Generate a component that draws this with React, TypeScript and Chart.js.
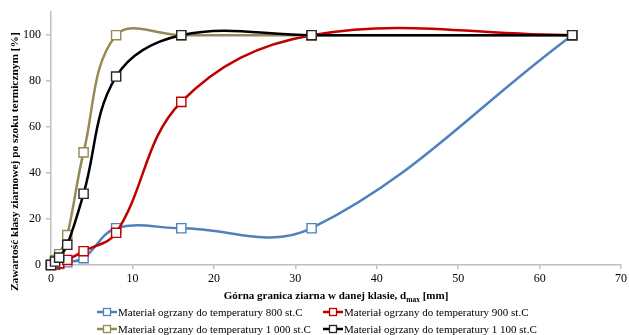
import React, { useEffect, useRef } from 'react';
import { Chart, registerables } from 'chart.js';

Chart.register(...registerables);

// ---- data ----
const grainSizes = [0, 0.5, 1, 2, 4, 8, 16, 32, 64];
const series800 = [0, 0.3, 0.5, 1.2, 3, 16, 16, 16, 100];
const series900 = [0, 0.2, 0.8, 2.2, 6, 14, 71, 100, 100];
const series1000 = [0, 2, 4.7, 13, 49, 100, 100, 100, 100];
const series1100 = [0, 1.5, 3.2, 8.8, 31, 82, 100, 100, 100];

const seriesLabels = [
  'Materiał ogrzany do temperatury 800 st.C',
  'Materiał ogrzany do temperatury 900 st.C',
  'Materiał ogrzany do temperatury 1 000 st.C',
  'Materiał ogrzany do temperatury 1 100 st.C',
];
const seriesColors = ['#4F81BD', '#C00000', '#948A54', '#000000'];
const markerBorders = ['#4F81BD', '#C00000', '#948A54', '#262626'];

const xTitleMain = 'Górna granica ziarna w danej klasie, d';
const xTitleSub = 'max';
const xTitleTail = ' [mm]';
const yTitle = 'Zawartość klasy ziarnowej po szoku termicznym [%]';

const FONT = '"Liberation Serif", "Times New Roman", serif';
const AXIS_COLOR = '#BFBFBF';
const TEXT_COLOR = '#000000';

const allSeries = [series800, series900, series1000, series1100];

const overlayPlugin = {
  id: 'overlay',
  afterDraw(chart: any) {
    const ctx: CanvasRenderingContext2D = chart.ctx;
    const area = chart.chartArea;
    ctx.save();
    ctx.fillStyle = TEXT_COLOR;
    ctx.textAlign = 'left';
    ctx.textBaseline = 'alphabetic';

    // x-axis title with subscript
    const big = `bold 11px ${FONT}`;
    const small = `bold 7.5px ${FONT}`;
    ctx.font = big;
    const w1 = ctx.measureText(xTitleMain).width;
    const w3 = ctx.measureText(xTitleTail).width;
    ctx.font = small;
    const w2 = ctx.measureText(xTitleSub).width;
    let tx = (area.left + area.right) / 2 - (w1 + w2 + w3) / 2;
    const ty = area.bottom + 34;
    ctx.font = big;
    ctx.fillText(xTitleMain, tx, ty);
    tx += w1;
    ctx.font = small;
    ctx.fillText(xTitleSub, tx, ty + 3);
    tx += w2;
    ctx.font = big;
    ctx.fillText(xTitleTail, tx, ty);

    // y-axis title
    ctx.save();
    ctx.translate(15, (area.top + chart.height) / 2 - 12);
    ctx.rotate(-Math.PI / 2);
    ctx.textAlign = 'center';
    ctx.textBaseline = 'middle';
    ctx.font = `bold 11.4px ${FONT}`;
    ctx.fillText(yTitle, 0, 0);
    ctx.restore();

    // legend (2 x 2 grid)
    const colX = [97, 323];
    const rowY = [area.bottom + 47, area.bottom + 64];
    ctx.font = `11px ${FONT}`;
    ctx.textBaseline = 'middle';
    seriesLabels.forEach((label, i) => {
      const col = i % 2;
      const row = Math.floor(i / 2);
      const x = colX[col];
      const y = rowY[row];
      ctx.strokeStyle = seriesColors[i];
      ctx.lineWidth = 2.5;
      ctx.beginPath();
      ctx.moveTo(x, y);
      ctx.lineTo(x + 20, y);
      ctx.stroke();
      ctx.fillStyle = '#ffffff';
      ctx.strokeStyle = markerBorders[i];
      ctx.lineWidth = 1.3;
      ctx.fillRect(x + 6.5, y - 3.5, 7, 7);
      ctx.strokeRect(x + 6.5, y - 3.5, 7, 7);
      ctx.fillStyle = TEXT_COLOR;
      ctx.fillText(label, x + 21, y + 1);
    });
    ctx.restore();
  },
};

export default function App() {
  const canvasRef = useRef<HTMLCanvasElement | null>(null);

  useEffect(() => {
    const canvas = canvasRef.current;
    if (!canvas) return;
    const order = [3, 2, 1, 0];
    const chart = new Chart(canvas, {
      type: 'line',
      data: {
        datasets: allSeries.map((s, i) => ({
          label: seriesLabels[i],
          data: s.map((v, j) => ({ x: grainSizes[j], y: v })),
          borderColor: seriesColors[i],
          backgroundColor: seriesColors[i],
          borderWidth: 2.5,
          tension: 0.38,
          fill: false,
          pointStyle: 'rect',
          pointRadius: 6.5,
          pointHoverRadius: 6.5,
          pointBorderWidth: 1.4,
          pointBackgroundColor: '#ffffff',
          pointBorderColor: markerBorders[i],
          clip: false as any,
          order: order[i],
        })),
      },
      options: {
        responsive: false,
        animation: false,
        devicePixelRatio: 1,
        layout: { padding: { top: 10, right: 3, left: 0, bottom: 0 } },
        plugins: {
          legend: { display: false },
          tooltip: { enabled: false },
          title: { display: false },
        },
        scales: {
          x: {
            type: 'linear',
            min: 0,
            max: 70,
            border: { display: true, color: AXIS_COLOR, width: 1.5 },
            grid: {
              display: true,
              drawOnChartArea: false,
              drawTicks: true,
              tickLength: 4,
              color: AXIS_COLOR,
              lineWidth: 1.5,
            },
            ticks: {
              stepSize: 10,
              padding: 3,
              color: TEXT_COLOR,
              font: { family: FONT, size: 12 },
              maxRotation: 0,
            },
            afterFit: (scale: any) => {
              scale.height = 70;
              scale.paddingLeft = 0;
              scale.paddingRight = 0;
            },
          },
          y: {
            type: 'linear',
            min: 0,
            max: 110,
            border: { display: true, color: AXIS_COLOR, width: 1.5 },
            grid: {
              display: true,
              drawOnChartArea: false,
              drawTicks: true,
              tickLength: 5,
              color: AXIS_COLOR,
              lineWidth: 1.5,
            },
            ticks: {
              stepSize: 20,
              includeBounds: false,
              padding: 5,
              color: TEXT_COLOR,
              font: { family: FONT, size: 12 },
            },
            afterFit: (scale: any) => {
              scale.width = 51;
            },
          },
        },
      },
      plugins: [overlayPlugin],
    });
    return () => chart.destroy();
  }, []);

  return (
    <div style={{ position: 'absolute', left: 0, top: 0, width: 629, height: 335, background: '#fff' }}>
      <canvas ref={canvasRef} width={629} height={335} style={{ display: 'block' }} />
    </div>
  );
}
